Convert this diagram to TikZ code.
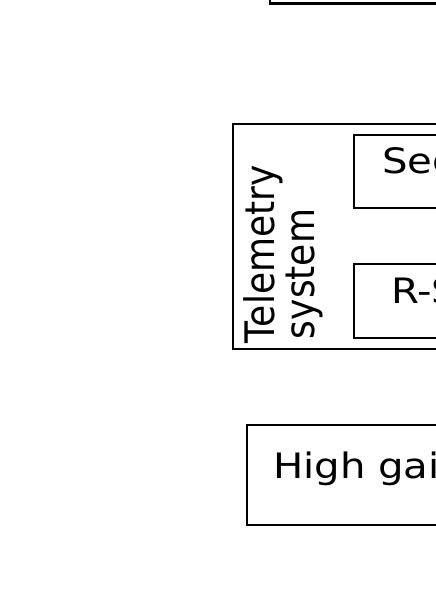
\documentclass[tikz,border=0pt]{standalone}
\usepackage{graphicx}
\usepackage{fontspec}
\setmainfont{DejaVu Sans}
\newcommand{\hwide}[1]{\scalebox{1.15}[1]{#1}}
\newcommand{\vwide}[1]{\scalebox{1}[1.13]{#1}}
\begin{document}
\begin{tikzpicture}[x=1pt,y=-1pt,
  box/.style={draw=black, fill=white, anchor=north west, inner sep=0pt, outer sep=0pt},
  lbl/.style={anchor=base west, inner sep=0pt, outer sep=0pt, font=\fontsize{35}{42}\selectfont},
  vlbl/.style={lbl, rotate=90, font=\fontsize{36}{42}\selectfont}]
\useasboundingbox (0,0) rectangle (436,616);
\clip (0,0) rectangle (436,616);
% top box (mostly off the picture)
\node[box, line width=2.4pt, minimum width=300pt, minimum height=100pt] (topbox) at (270,-96.7) {};
% telemetry system
\node[box, line width=2.2pt, minimum width=300pt, minimum height=225pt] (tele) at (233,124) {};
\node[vlbl] (teleA) at (274,343) {\vwide{Telemetry}};
\node[vlbl] (teleB) at (314,339) {\vwide{system}};
\node[box, line width=2.2pt, minimum width=200pt, minimum height=73pt] (seg) at (354,135) {};
\node[lbl] (segt) at (382,173) {\hwide{Segmentation}};
\node[box, line width=2.2pt, minimum width=200pt, minimum height=74pt] (rs) at (354,264) {};
\node[lbl] (rst) at (391,303) {\hwide{R-S encoder}};
% high gain antenna
\node[box, line width=2.2pt, minimum width=300pt, minimum height=100pt] (hga) at (247,425) {};
\node[lbl] (hgat) at (273,478) {\hwide{High gain antenna}};
\end{tikzpicture}
\end{document}
